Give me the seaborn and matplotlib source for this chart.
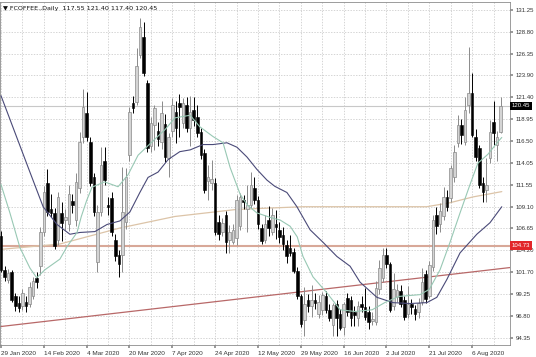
import matplotlib
matplotlib.use("Agg")
import matplotlib.pyplot as plt
import numpy as np
import pandas as pd
import seaborn as sns

# ---- data ----
opens = [105.8, 102.0, 100.9, 101.7, 99.0, 98.3, 97.9, 98.4, 98.1, 99.0,
         101.1, 102.4, 106.2, 111.8, 108.8, 108.4, 105.4, 108.4, 107.6, 107.1,
         109.7, 107.6, 111.2, 116.9, 119.6, 116.4, 112.4, 102.9, 108.5, 114.2,
         109.3, 110.1, 105.4, 103.7, 103.7, 107.4, 114.9, 120.8, 120.9, 126.2,
         128.2, 123.0, 115.9, 118.3, 117.6, 116.4, 118.4, 114.6, 117.6, 119.8,
         120.8, 118.5, 120.6, 118.0, 120.0, 119.2, 117.5, 115.2, 112.0, 111.8,
         111.8, 107.4, 106.2, 108.2, 105.4, 105.1, 105.6, 106.9, 109.8, 108.8,
         109.3, 111.2, 109.9, 106.7, 105.4, 107.6, 106.3, 107.1, 106.5, 105.9,
         104.8, 104.4, 104.0, 101.9, 99.0, 96.4, 98.6, 97.9, 98.6, 97.0,
         97.5, 99.0, 97.5, 95.8, 98.1, 97.0, 95.6, 98.8, 98.6, 97.3,
         96.6, 98.1, 97.8, 97.3, 96.2, 96.1, 99.8, 101.1, 103.7, 102.6,
         97.9, 98.9, 99.6, 98.6, 97.0, 98.1, 97.6, 97.2, 98.4, 101.5,
         99.0, 102.3, 108.2, 107.2, 108.0, 110.2, 110.1, 112.4, 116.3, 118.3,
         116.4, 120.6, 121.9, 116.9, 115.7, 111.8, 111.0, 114.6, 118.6, 116.1,
         117.55]
highs = [106.4, 102.4, 102.1, 102.0, 99.4, 99.0, 99.8, 99.0, 100.6, 101.2,
         101.7, 106.8, 111.4, 113.3, 110.5, 109.0, 110.8, 109.6, 108.8, 111.6,
         110.5, 112.9, 117.5, 122.4, 122.0, 116.9, 112.9, 109.3, 115.8, 115.8,
         110.2, 110.8, 106.0, 104.2, 113.6, 113.5, 120.3, 121.6, 127.0, 130.3,
         129.9, 123.4, 119.2, 120.6, 118.6, 121.0, 119.5, 117.4, 121.3, 121.0,
         121.8, 121.3, 121.4, 121.6, 121.5, 120.6, 118.0, 115.6, 113.8, 114.4,
         112.3, 108.2, 107.8, 108.6, 107.0, 107.2, 110.4, 110.7, 110.4, 111.6,
         113.0, 112.5, 110.3, 107.2, 108.2, 109.2, 109.0, 108.7, 107.4, 106.8,
         105.4, 105.9, 104.5, 102.3, 99.3, 100.1, 99.3, 100.3, 99.4, 99.2,
         99.5, 99.6, 98.2, 98.3, 98.6, 97.6, 98.4, 99.4, 99.1, 97.9,
         98.5, 99.0, 100.0, 97.9, 97.3, 100.7, 103.1, 104.4, 104.4, 102.9,
         101.6, 100.4, 100.3, 99.0, 100.2, 98.7, 98.0, 98.8, 102.2, 102.0,
         103.0, 108.2, 109.1, 109.5, 111.3, 111.0, 113.8, 116.0, 119.4, 119.0,
         121.5, 127.1, 124.2, 117.9, 116.1, 112.4, 114.6, 118.9, 121.0, 117.6,
         121.40]
lows = [101.7, 100.7, 100.5, 98.4, 97.4, 97.3, 97.5, 97.2, 97.8, 98.7,
        100.0, 101.4, 105.8, 108.0, 107.9, 104.3, 104.8, 105.2, 106.5, 106.4,
        108.4, 106.9, 110.6, 116.3, 116.5, 111.4, 108.1, 101.7, 108.0, 111.6,
        108.2, 105.8, 103.0, 101.2, 101.7, 106.6, 114.2, 119.6, 120.5, 125.8,
        123.8, 115.3, 115.3, 115.5, 115.9, 115.6, 114.1, 112.4, 117.0, 116.3,
        116.9, 118.0, 117.5, 115.9, 118.2, 117.0, 114.5, 110.6, 109.9, 111.0,
        105.9, 105.3, 105.8, 103.9, 103.9, 104.9, 104.8, 106.5, 108.8, 106.3,
        108.9, 109.4, 106.6, 104.9, 105.0, 105.8, 105.9, 105.5, 105.0, 104.2,
        102.8, 103.6, 101.6, 98.7, 95.6, 94.5, 97.2, 96.7, 97.6, 96.6,
        96.9, 97.1, 96.2, 94.5, 94.5, 95.2, 94.6, 96.8, 95.7, 95.7,
        95.7, 97.2, 96.3, 95.3, 95.8, 95.8, 99.3, 100.6, 102.2, 97.2,
        97.5, 98.4, 97.8, 96.3, 96.6, 97.0, 96.4, 96.6, 98.0, 98.3,
        98.8, 101.9, 106.0, 106.2, 107.6, 108.6, 109.6, 111.9, 115.8, 116.2,
        116.0, 119.6, 116.9, 114.3, 111.2, 109.6, 109.6, 114.0, 116.1, 114.3,
        117.40]
closes = [102.0, 101.2, 101.6, 98.65, 97.9, 97.75, 99.4, 97.9, 100.1, 100.7,
          100.6, 106.2, 110.8, 108.5, 108.4, 104.7, 110.2, 107.3, 107.9, 110.5,
          109.3, 111.9, 116.4, 120.3, 116.9, 111.8, 108.5, 108.5, 113.8, 112.1,
          109.1, 106.3, 103.5, 102.6, 108.5, 112.5, 119.8, 120.2, 125.0, 129.3,
          124.2, 115.7, 118.5, 120.2, 116.7, 119.7, 114.7, 116.9, 120.6, 118.0,
          120.3, 120.8, 118.0, 119.8, 118.9, 117.4, 114.9, 111.0, 112.4, 112.2,
          106.2, 106.0, 107.3, 105.1, 106.3, 106.5, 109.9, 110.2, 109.6, 109.3,
          111.6, 109.9, 107.1, 105.2, 107.1, 106.7, 108.2, 106.8, 105.7, 104.9,
          103.5, 103.9, 101.9, 99.0, 95.9, 98.1, 97.9, 98.6, 98.3, 98.4,
          99.2, 97.5, 96.6, 98.0, 96.6, 95.5, 98.1, 97.3, 96.6, 96.9,
          97.9, 97.8, 96.7, 96.1, 96.5, 100.0, 102.2, 103.7, 102.6, 97.5,
          99.8, 99.7, 98.1, 96.7, 98.1, 97.8, 97.0, 98.3, 100.6, 98.7,
          102.5, 107.6, 106.9, 108.6, 110.2, 109.1, 113.5, 115.3, 118.3, 117.2,
          120.0, 121.9, 117.2, 114.7, 111.6, 110.8, 111.6, 117.5, 117.4, 117.0,
          120.45]

date_labels = ["29 Jan 2020", "14 Feb 2020", "4 Mar 2020", "20 Mar 2020",
               "7 Apr 2020", "24 Apr 2020", "12 May 2020", "29 May 2020",
               "16 Jun 2020", "2 Jul 2020", "21 Jul 2020", "6 Aug 2020"]
date_label_bars = [0, 12, 24, 36, 48, 60, 72, 84, 96, 108, 120, 132]
price_ticks = [131.25, 128.80, 126.35, 123.90, 121.40, 118.95, 116.50, 114.05,
               111.55, 109.10, 106.65, 104.20, 101.70, 99.25, 96.80, 94.35]

fast_ma_bar = [0, 2.5, 5.3, 8.1, 10, 12.3, 16.5, 18.5, 21.3, 22.5, 24, 25.5, 29,
               32.8, 35.6, 38.4, 42.3, 46, 48.7, 53, 55.7, 59.4, 62.2, 64.2, 67,
               69, 71.7, 75.4, 78.2, 81, 83, 84.6, 87.4, 91.3, 95, 99.2, 104,
               107.5, 111.5, 117.4, 120, 123, 125.8, 128.6, 131.4, 133.6, 136.4,
               139.2, 140.3]
fast_ma_val = [111.6, 108.4, 104.5, 102.2, 101.1, 102.0, 103.2, 104.6, 106.2,
               108.0, 109.8, 111.3, 111.9, 111.35, 112.7, 114.9, 116.4, 117.8,
               119.1, 119.4, 118.1, 117.0, 116.3, 113.5, 110.5, 109.3, 108.4,
               107.9, 107.6, 106.9, 105.7, 103.5, 101.2, 99.4, 97.5, 97.3, 97.5,
               98.3, 99.0, 99.2, 99.8, 102.0, 105.1, 108.4, 111.6, 114.0, 115.0,
               116.4, 116.9]
slow_ma_bar = [0, 8.1, 11.8, 15.7, 19.3, 22.1, 26.3, 29.7, 33.3, 36.1, 38.9,
               41.2, 44, 46.8, 50.1, 53, 56.6, 59.4, 63.3, 66.1, 68.9, 71.7,
               74.5, 76.7, 80.1, 82.9, 86.6, 90.2, 94.1, 97.8, 100.6, 105.3,
               109.8, 114.6, 119.3, 122.1, 124.9, 128.6, 133.3, 137, 140.3]
slow_ma_val = [121.6, 113.0, 109.1, 107.1, 106.0, 106.2, 106.3, 107.1, 107.5,
               108.5, 110.7, 112.4, 113.0, 114.4, 115.3, 115.5, 116.1, 116.1,
               116.3, 115.8, 114.7, 113.3, 112.1, 111.4, 110.7, 109.1, 106.5,
               105.1, 103.5, 102.4, 100.6, 98.9, 98.3, 98.2, 98.3, 98.9, 100.9,
               103.9, 106.0, 107.3, 109.1]
long_ma_bar = [0, 16.5, 33.3, 48.7, 66.1, 84.6, 109, 119.3, 125.8, 132.2, 140.3]
long_ma_val = [104.3, 104.9, 106.7, 108.0, 108.8, 109.1, 109.1, 109.1, 109.55,
               110.2, 110.8]
trend_bar = [-0.3, 142.6]
trend_val = [95.6, 102.25]
support_level = 104.73
last_price = 120.45

df = pd.DataFrame({"bar": np.arange(len(closes)), "open": opens, "high": highs,
                   "low": lows, "close": closes})
df["bull"] = df["close"] >= df["open"]

# ---- style ----
sns.set_theme(style="white")
plt.rcParams["font.family"] = ["Liberation Sans Narrow", "Liberation Sans", "DejaVu Sans"]

W, H = 536, 357
fig = plt.figure(figsize=(W / 100, H / 100), dpi=100)
fig.patch.set_facecolor("white")
ax = fig.add_axes([0, 12 / H, 510 / W, 343 / H])
ax.set_facecolor("white")

ax.set_xlim(-0.28, 142.6)
ax.set_ylim(93.53, 132.15)

# grid
ax.set_yticks(price_ticks)
ax.set_xticks(date_label_bars)
ax.set_xticks(np.arange(6, 143, 12), minor=True)
ax.grid(True, which="both", color="#c4c4c4", linestyle=(0, (2, 2)), linewidth=0.5)
ax.set_axisbelow(True)

# horizontal levels
ax.axhline(support_level, color="#d8a898", lw=1.5, zorder=1)
ax.axhline(last_price, color="#c8c8c8", lw=0.8, zorder=1)

# moving averages / trend line
sns.lineplot(x=long_ma_bar, y=long_ma_val, ax=ax, color="#dcc4a8", lw=0.9, zorder=2)
sns.lineplot(x=trend_bar, y=trend_val, ax=ax, color="#b86868", lw=0.9, zorder=2)
sns.lineplot(x=slow_ma_bar, y=slow_ma_val, ax=ax, color="#4a4a78", lw=0.8, zorder=4)
sns.lineplot(x=fast_ma_bar, y=fast_ma_val, ax=ax, color="#98c8b4", lw=0.8, zorder=4)

# candles
for _, r in df.iterrows():
    wc = "#8a8a8a" if r.bull else "#000000"
    ax.vlines(r.bar, r.low, r.high, color=wc, lw=0.7, zorder=3)
body_h = (df["close"] - df["open"]).abs().clip(lower=0.12)
body_b = df[["open", "close"]].min(axis=1)
ax.bar(df["bar"][df.bull], body_h[df.bull], bottom=body_b[df.bull], width=0.72,
       color="#d4d4d4", edgecolor="#8a8a8a", linewidth=0.5, zorder=3)
ax.bar(df["bar"][~df.bull], body_h[~df.bull], bottom=body_b[~df.bull], width=0.72,
       color="#000000", edgecolor="#000000", linewidth=0.4, zorder=3)

# axes cosmetics
for s in ax.spines.values():
    s.set_color("#8c8c8c")
    s.set_linewidth(0.6)
ax.yaxis.tick_right()
ax.set_yticklabels([f"{v:.2f}" for v in price_ticks], fontsize=4.3, color="#333333")
ax.tick_params(axis="y", which="both", length=2, pad=2, color="#8c8c8c", right=True, left=False)
ax.set_xticklabels(date_labels, fontsize=4.6, color="#333333", ha="left")
ax.tick_params(axis="x", which="major", length=2.5, pad=1.5, color="#8c8c8c", bottom=True)
ax.tick_params(axis="x", which="minor", length=0, bottom=False)
ax.set_xlabel("")
ax.set_ylabel("")
if ax.get_legend():
    ax.get_legend().remove()

# price boxes on the right axis
ax.text(1.003, last_price, f"{last_price:.2f}", transform=ax.get_yaxis_transform(),
        ha="left", va="center", fontsize=4.3, color="white", zorder=10, clip_on=False,
        bbox=dict(boxstyle="square,pad=0.3", fc="#000000", ec="none"))
ax.text(1.003, support_level, f"{support_level:.2f}", transform=ax.get_yaxis_transform(),
        ha="left", va="center", fontsize=4.3, color="white", zorder=10, clip_on=False,
        bbox=dict(boxstyle="square,pad=0.3", fc="#e2262a", ec="none"))

# header text
fig.text(3 / W, 1 - 8.5 / H, "\u25bc FCOFFEE.,Daily  117.55 121.40 117.40 120.45",
         fontsize=4.6, color="#111111", va="center", ha="left",
         family=["Liberation Sans Narrow", "DejaVu Sans"])

fig.savefig("out.png", dpi=100, facecolor="white")
